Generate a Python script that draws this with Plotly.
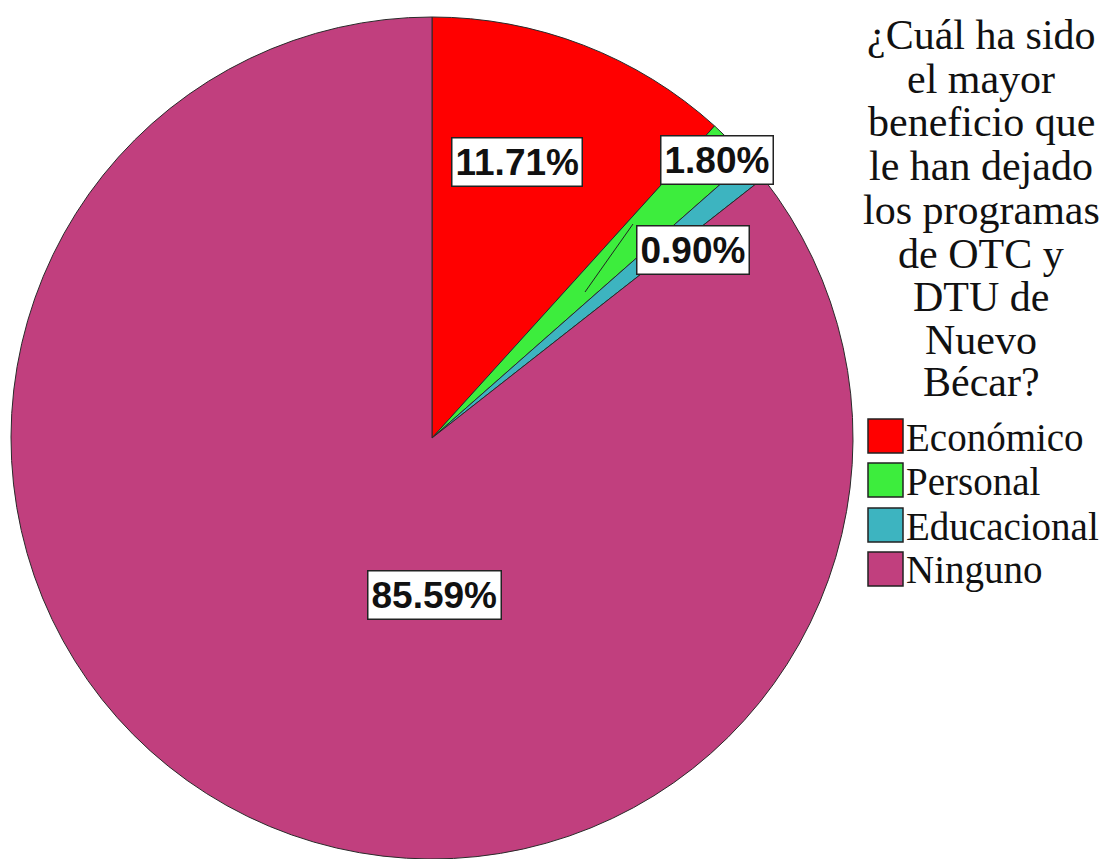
import plotly.graph_objects as go

# Survey responses (n = 111)
categories = ["Económico", "Personal", "Educacional", "Ninguno"]
counts = [13, 2, 1, 95]
colors = ["#ff0000", "#3ded3d", "#3db4c0", "#c13f7e"]

title_lines = ["¿Cuál ha sido", "el mayor", "beneficio que", "le han dejado",
               "los programas", "de OTC y", "DTU de", "Nuevo", "Bécar?"]

W, H = 1107, 859
total = sum(counts)
pcts = [100.0 * c / total for c in counts]

SERIF = "Liberation Serif"
SANS = "Liberation Sans"

fig = go.Figure()
fig.add_trace(go.Pie(
    labels=categories,
    values=counts,
    sort=False,
    direction="clockwise",
    rotation=0,
    marker=dict(colors=colors, line=dict(color="#2a2a2a", width=1)),
    textinfo="none",
    hoverinfo="label+percent",
    showlegend=False,
    domain=dict(x=[11 / W, 853 / W], y=[0, (H - 17) / H]),
))

def px(x):
    return x / W

def py(y):
    return 1 - y / H

# Leader line for the small "Personal" slice label
fig.add_shape(type="line", xref="paper", yref="paper",
              x0=px(585), y0=py(292), x1=px(633), y1=py(224),
              line=dict(color="#222222", width=1))

# Boxed percentage labels
label_pos = [(517, 162), (717, 160), (693, 250), (434, 595)]
for (lx, ly), p in zip(label_pos, pcts):
    fig.add_annotation(
        x=px(lx), y=py(ly), xref="paper", yref="paper",
        xanchor="center", yanchor="middle",
        text=f"<b>{p:.2f}%</b>", showarrow=False,
        font=dict(family=SANS, size=37, color="#111111"),
        bgcolor="white", bordercolor="#222222", borderwidth=1.5, borderpad=3,
    )

# Legend title, one annotation per line
title_y = [35, 79, 122, 166, 210, 254, 297, 340, 382]
for t, ty in zip(title_lines, title_y):
    fig.add_annotation(
        x=px(981), y=py(ty), xref="paper", yref="paper",
        text=t, showarrow=False, xanchor="center", yanchor="middle",
        font=dict(family=SERIF, size=42, color="#111111"),
    )

# Legend swatches and entries
item_y = [436, 480, 525, 569]
for name, col, iy in zip(categories, colors, item_y):
    fig.add_shape(
        type="rect", xref="paper", yref="paper",
        x0=px(868), x1=px(903), y0=py(iy - 17), y1=py(iy + 17),
        fillcolor=col, line=dict(color="#222222", width=1.5),
    )
    fig.add_annotation(
        x=px(904), y=py(iy + 1), xref="paper", yref="paper",
        text=name, showarrow=False, xanchor="left", yanchor="middle",
        font=dict(family=SERIF, size=39, color="#111111"),
    )

fig.update_layout(
    width=W, height=H,
    margin=dict(l=0, r=0, t=0, b=0),
    paper_bgcolor="white",
    plot_bgcolor="white",
)

fig.write_html("out.html")
